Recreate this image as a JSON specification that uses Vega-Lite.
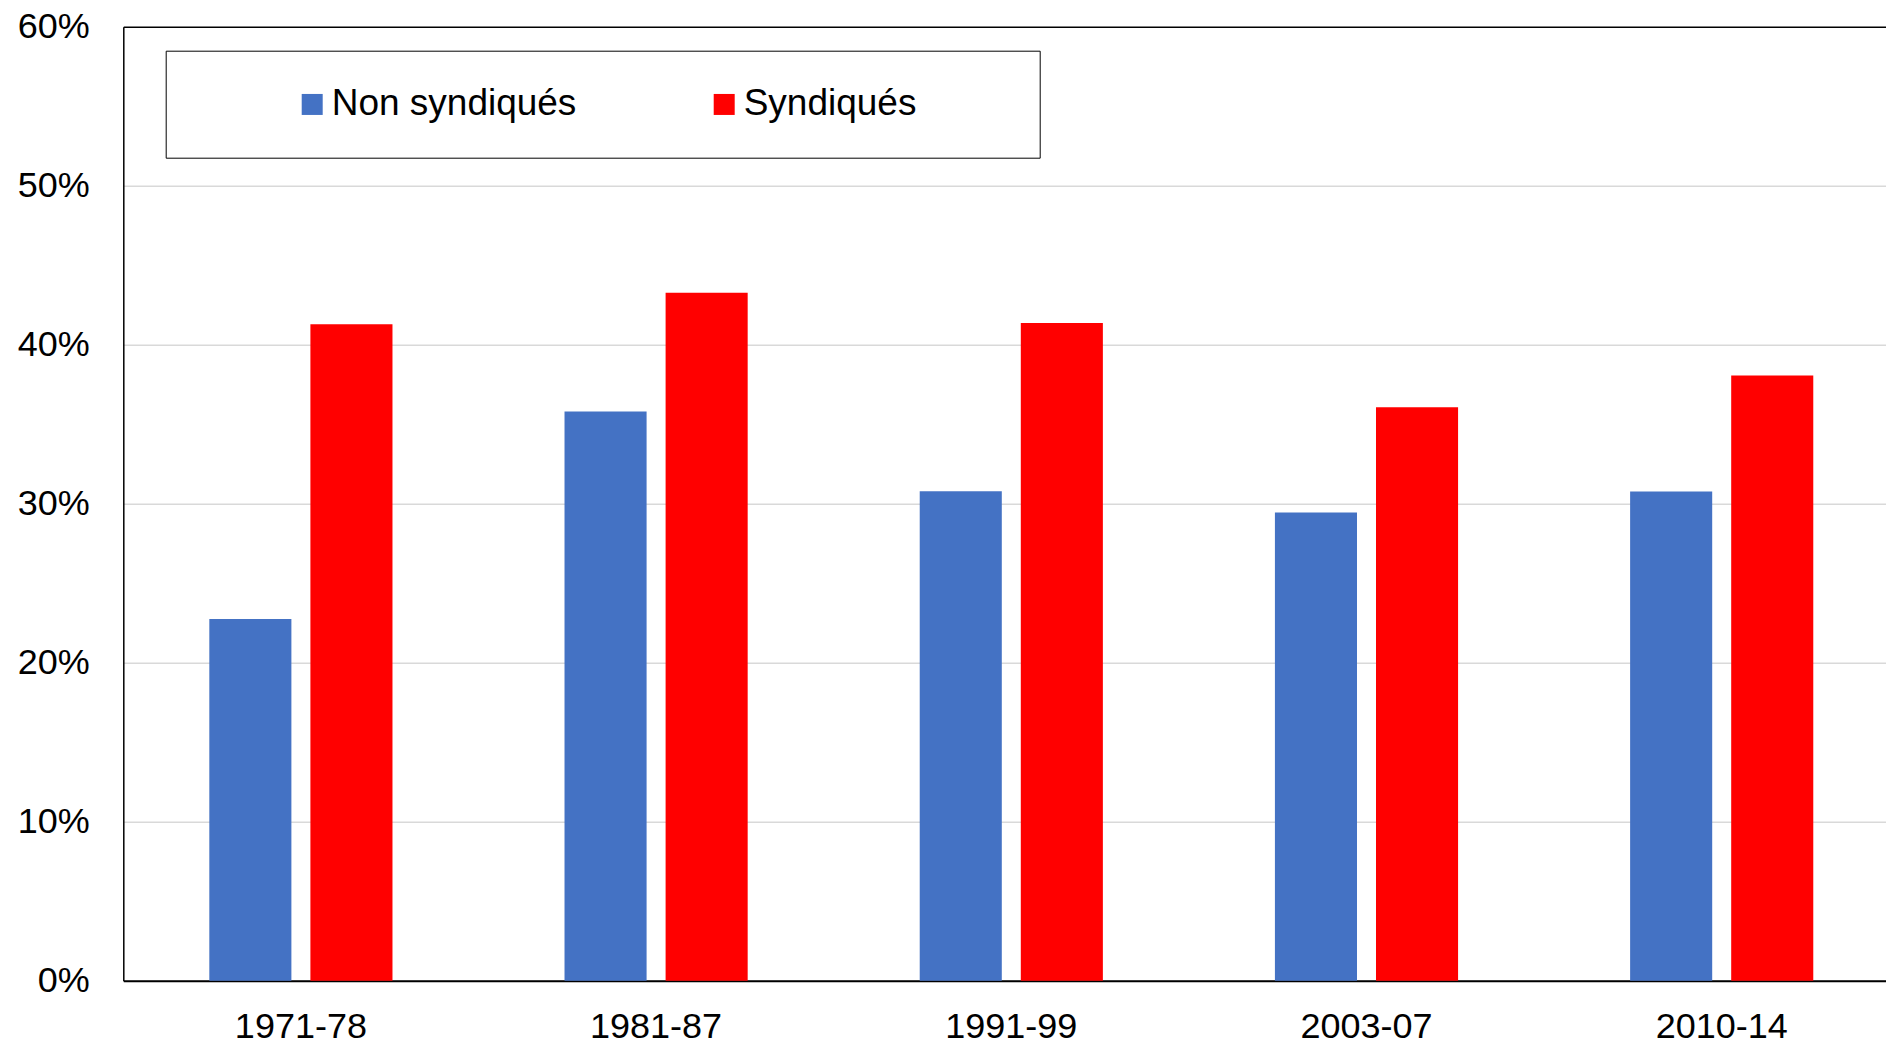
{
  "$schema": "https://vega.github.io/schema/vega-lite/v6.json",
  "width": 1763,
  "height": 954,
  "autosize": {"type": "none"},
  "padding": {"left": 123.3, "top": 26.7, "right": 0, "bottom": 62.3},
  "background": "white",
  "config": {
    "view": {"stroke": null},
    "font": "Liberation Sans"
  },
  "data": {
    "values": [
      {"periode": "1971-78", "groupe": "Non syndiqués", "part": 0.2275},
      {"periode": "1971-78", "groupe": "Syndiqués", "part": 0.4128},
      {"periode": "1981-87", "groupe": "Non syndiqués", "part": 0.358},
      {"periode": "1981-87", "groupe": "Syndiqués", "part": 0.4326},
      {"periode": "1991-99", "groupe": "Non syndiqués", "part": 0.3078},
      {"periode": "1991-99", "groupe": "Syndiqués", "part": 0.4137},
      {"periode": "2003-07", "groupe": "Non syndiqués", "part": 0.2945},
      {"periode": "2003-07", "groupe": "Syndiqués", "part": 0.3607},
      {"periode": "2010-14", "groupe": "Non syndiqués", "part": 0.3077},
      {"periode": "2010-14", "groupe": "Syndiqués", "part": 0.3807}
    ]
  },
  "mark": {"type": "bar"},
  "encoding": {
    "x": {
      "field": "periode",
      "type": "nominal",
      "sort": null,
      "scale": {"range": [0, 1776], "paddingInner": 0, "paddingOuter": 0},
      "axis": {
        "title": null,
        "labelAngle": 0,
        "labelFontSize": 36,
        "labelColor": "black",
        "labelPadding": 29,
        "ticks": false,
        "tickSize": 0,
        "domainColor": "black",
        "domainWidth": 2,
        "grid": false
      }
    },
    "xOffset": {
      "field": "groupe",
      "type": "nominal",
      "scale": {"paddingInner": 0.188, "paddingOuter": 0.851}
    },
    "y": {
      "field": "part",
      "type": "quantitative",
      "scale": {"domain": [0, 0.6], "nice": false},
      "axis": {
        "title": null,
        "format": ".0%",
        "values": [0, 0.1, 0.2, 0.3, 0.4, 0.5, 0.6],
        "labelFontSize": 36,
        "labelColor": "black",
        "labelPadding": 34,
        "ticks": false,
        "tickSize": 0,
        "domainColor": "black",
        "domainWidth": 1.5,
        "grid": true,
        "gridColor": {"condition": {"test": "datum.value >= 0.6", "value": "black"}, "value": "#d9d9d9"},
        "gridWidth": 1.5
      }
    },
    "color": {
      "field": "groupe",
      "type": "nominal",
      "scale": {"domain": ["Non syndiqués", "Syndiqués"], "range": ["#4472C4", "#FF0000"]},
      "legend": {
        "title": "\u00a0",
        "titleOrient": "right",
        "titlePadding": 88,
        "titleFontSize": 37,
        "titleColor": "white",
        "orient": "none",
        "direction": "horizontal",
        "legendX": 42.4,
        "legendY": 24,
        "padding": 35,
        "strokeColor": "black",
        "fillColor": "white",
        "symbolType": "square",
        "symbolSize": 441,
        "symbolStrokeWidth": 0,
        "symbolOffset": 93,
        "labelOffset": 1,
        "labelFontSize": 37,
        "labelColor": "black",
        "labelLimit": 1000,
        "columnPadding": 36
      }
    }
  }
}
